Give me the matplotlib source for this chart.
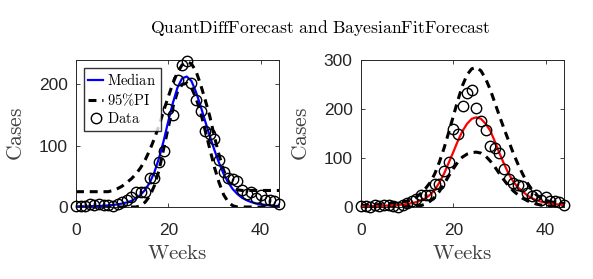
import numpy as np
import matplotlib
matplotlib.use("Agg")
import matplotlib.pyplot as plt

plt.rcParams['mathtext.fontset'] = 'cm'
plt.rcParams['font.family'] = ['Liberation Sans', 'DejaVu Sans']

weeks = list(range(45))
cases = [2, 2, 1, 5, 3, 5, 4, 3, 1, 5, 8, 12, 17, 25, 24, 25, 47, 47, 73, 92,
         160, 150, 207, 232, 238, 203, 175, 157, 124, 120, 111, 77, 57, 48, 45,
         42, 28, 22, 25, 15, 20, 12, 12, 10, 5]

# QuantDiffForecast (left)
qd_median = [0.5, 0.6, 0.8, 1, 1.3, 1.6, 2, 2.6, 3.3, 4.3, 5.6, 7.5, 10, 14, 20,
             28, 40, 57, 80, 108, 140, 170, 195, 210, 213, 206, 188, 165, 140,
             116, 93, 72, 54, 40, 29, 21, 15, 11, 8, 6, 4.5, 3.5, 2.5, 2, 1.5]
qd_upper = [25, 25, 25, 25, 25, 25, 25, 25, 27, 30, 34, 40, 46, 54, 64, 77, 93,
            112, 133, 157, 180, 202, 220, 232, 237, 234, 222, 200, 175, 148,
            115, 85, 60, 42, 32, 28, 27, 27, 27, 27, 27, 27, 27, 27, 27]
qd_lower = [0, 0, 0, 0, 0, 0, 0, 0, 0, 0, 0, 0, 0, 0, 2, 8, 18, 35, 60, 95, 130,
            163, 188, 200, 202, 195, 178, 155, 125, 95, 65, 40, 20, 8, 2, 0, 0,
            0, 0, 0, 0, 0, 0, 0, 0]

# BayesianFitForecast (right)
bf_median = [1, 1.2, 1.5, 1.8, 2.2, 2.6, 3, 3.6, 4.3, 5, 6, 8, 10, 14, 18, 25,
             35, 50, 68, 90, 112, 135, 155, 170, 180, 183, 180, 170, 156, 134,
             110, 88, 68, 52, 40, 32, 24, 18, 14, 11, 9, 7, 6, 5, 4]
bf_upper = [3, 3.5, 4, 4.5, 5, 6, 7, 8, 9, 10.5, 12, 15, 20, 28, 38, 50, 68, 92,
            120, 152, 185, 218, 248, 270, 282, 285, 278, 262, 240, 213, 186,
            160, 135, 110, 88, 68, 50, 36, 25, 18, 14, 11, 9, 8, 7]
bf_lower = [0, 0, 0, 0, 0, 0, 0, 0, 0.5, 1, 1, 1.5, 2, 3, 6, 12, 20, 32, 47, 63,
            78, 92, 102, 108, 111, 112, 110, 104, 94, 82, 68, 55, 43, 33, 25,
            18, 13, 9, 6, 4, 3, 2, 2, 1, 1]

title_text = r'$\mathrm{QuantDiffForecast\ and\ BayesianFitForecast}$'

fig = plt.figure(figsize=(5.93, 2.79), dpi=100)
axL = fig.add_axes([76/593, 72/279, 203/593, 147/279])
axR = fig.add_axes([361/593, 72/279, 203/593, 147/279])

dash = (0, (2.6, 1.9))
tick_color = '#262626'

def style(ax, ylim, yticks):
    ax.set_xlim(0, 44)
    ax.set_ylim(*ylim)
    ax.set_xticks([0, 20, 40])
    ax.set_yticks(yticks)
    ax.tick_params(direction='in', top=True, right=True, length=3, width=0.6,
                   labelsize=12.5, colors=tick_color)
    ax.tick_params(axis='x', pad=11.5)
    ax.tick_params(axis='y', pad=6)
    for s in ax.spines.values():
        s.set_linewidth(0.7)
        s.set_color(tick_color)
    ax.set_xlabel(r'$\mathrm{Weeks}$', fontsize=15, color='#404040', labelpad=4)
    ax.set_ylabel(r'$\mathrm{Cases}$', fontsize=15.5, color='#404040', labelpad=8.5)

# left panel
axL.plot(weeks, qd_median, color='#0000ff', lw=1.6, label=r'$\mathrm{Median}$', zorder=3)
axL.plot(weeks, qd_upper, color='black', lw=2.2, linestyle=dash,
         label=r'$\mathrm{95\%PI}$', zorder=2)
axL.plot(weeks, qd_lower, color='black', lw=2.2, linestyle=dash, zorder=2)
axL.plot(weeks, cases, linestyle='none', marker='o', markersize=7.5,
         markerfacecolor='none', markeredgecolor='black', markeredgewidth=1.0,
         label=r'$\mathrm{Data}$', zorder=4, clip_on=False)
style(axL, (0, 240), [0, 100, 200])
leg = axL.legend(loc='upper left', bbox_to_anchor=(0.025, 0.965), fontsize=10.5,
                 frameon=True, fancybox=False, edgecolor='black',
                 handlelength=1.0, handletextpad=0.3, borderpad=0.3,
                 labelspacing=0.22, borderaxespad=0.2)
leg.get_frame().set_linewidth(1.0)

# right panel
axR.plot(weeks, bf_median, color='#ff0000', lw=1.6, zorder=3)
axR.plot(weeks, bf_upper, color='black', lw=2.2, linestyle=dash, zorder=2)
axR.plot(weeks, bf_lower, color='black', lw=2.2, linestyle=dash, zorder=2)
axR.plot(weeks, cases, linestyle='none', marker='o', markersize=7.5,
         markerfacecolor='none', markeredgecolor='black', markeredgewidth=1.0,
         zorder=4, clip_on=False)
style(axR, (0, 300), [0, 100, 200, 300])

fig.text(320/593, 1 - 28/279, title_text, ha='center', va='center', fontsize=12.7)

fig.savefig('out.png', dpi=100)
